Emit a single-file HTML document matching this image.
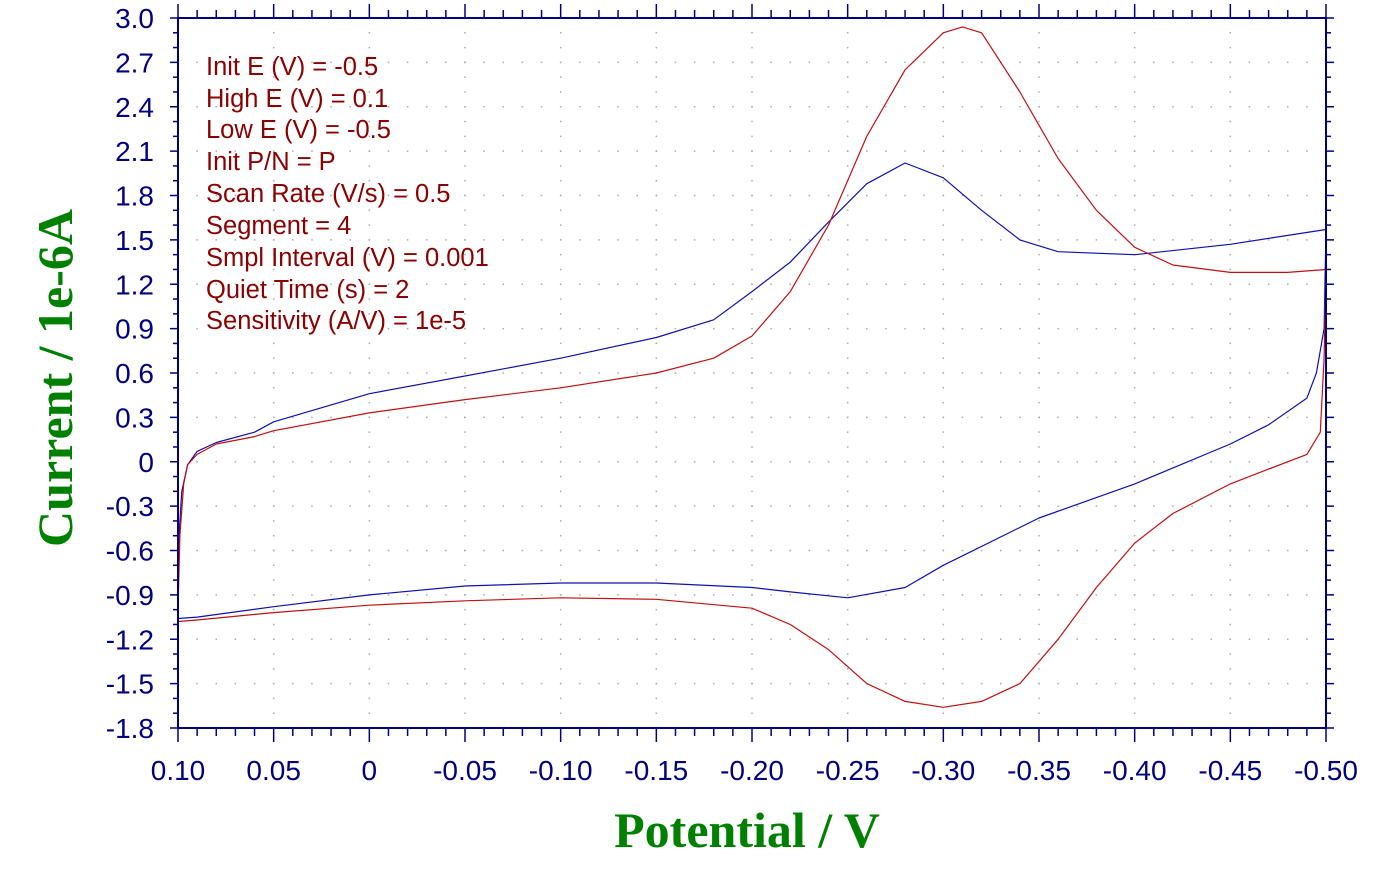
<!DOCTYPE html>
<html><head><meta charset="utf-8"><style>
html,body{margin:0;padding:0;background:#fff;}
svg{display:block;}
</style></head><body>
<svg id="chart" width="1385" height="870" xmlns="http://www.w3.org/2000/svg" font-family="'Liberation Sans', sans-serif">
<g id="grid"></g>
<g id="curves"></g>
<g id="axes"></g>
<g id="params" fill="#8b0000" font-size="25.5">
<text x="206" y="75">Init E (V) = -0.5</text>
<text x="206" y="107">High E (V) = 0.1</text>
<text x="206" y="138">Low E (V) = -0.5</text>
<text x="206" y="170">Init P/N = P</text>
<text x="206" y="202">Scan Rate (V/s) = 0.5</text>
<text x="206" y="234">Segment = 4</text>
<text x="206" y="266">Smpl Interval (V) = 0.001</text>
<text x="206" y="298">Quiet Time (s) = 2</text>
<text x="206" y="329">Sensitivity (A/V) = 1e-5</text>
</g>
<text transform="translate(72,378) rotate(-90)" text-anchor="middle" font-family="'Liberation Serif', serif" font-weight="bold" font-size="50" fill="#008000">Current / 1e-6A</text>
<text x="747" y="847" text-anchor="middle" font-family="'Liberation Serif', serif" font-weight="bold" font-size="50" fill="#008000">Potential / V</text>
</svg>
<script>
const xTicks = [0.10,0.05,0,-0.05,-0.10,-0.15,-0.20,-0.25,-0.30,-0.35,-0.40,-0.45,-0.50];
const xTickLabels = ["0.10","0.05","0","-0.05","-0.10","-0.15","-0.20","-0.25","-0.30","-0.35","-0.40","-0.45","-0.50"];
const yTicks = [3.0,2.7,2.4,2.1,1.8,1.5,1.2,0.9,0.6,0.3,0,-0.3,-0.6,-0.9,-1.2,-1.5,-1.8];
const yTickLabels = ["3.0","2.7","2.4","2.1","1.8","1.5","1.2","0.9","0.6","0.3","0","-0.3","-0.6","-0.9","-1.2","-1.5","-1.8"];

const redE = [0.1,0.099,0.097,0.095,0.09,0.08,0.06,0.05,0.0,-0.05,-0.10,-0.15,-0.18,-0.20,-0.22,-0.24,-0.26,-0.28,-0.30,-0.31,-0.32,-0.34,-0.36,-0.38,-0.40,-0.42,-0.45,-0.48,-0.5,
  -0.499,-0.497,-0.49,-0.47,-0.45,-0.42,-0.40,-0.38,-0.36,-0.34,-0.32,-0.30,-0.28,-0.26,-0.24,-0.22,-0.20,-0.15,-0.10,-0.05,0.0,0.05,0.09,0.1];
const redI = [-1.0,-0.5,-0.15,-0.02,0.05,0.12,0.17,0.21,0.33,0.42,0.50,0.60,0.70,0.85,1.15,1.6,2.2,2.65,2.9,2.94,2.9,2.5,2.05,1.7,1.45,1.33,1.28,1.28,1.30,
  0.7,0.2,0.05,-0.05,-0.15,-0.35,-0.55,-0.85,-1.2,-1.5,-1.62,-1.66,-1.62,-1.5,-1.27,-1.1,-0.99,-0.93,-0.92,-0.94,-0.97,-1.02,-1.07,-1.08];
const blueE = [0.1,0.099,0.098,0.095,0.09,0.08,0.06,0.05,0.0,-0.05,-0.10,-0.15,-0.18,-0.20,-0.22,-0.24,-0.26,-0.28,-0.30,-0.32,-0.34,-0.36,-0.40,-0.45,-0.50,
  -0.499,-0.495,-0.49,-0.47,-0.45,-0.40,-0.35,-0.30,-0.28,-0.25,-0.22,-0.20,-0.15,-0.10,-0.05,0.0,0.05,0.09,0.1];
const blueI = [-0.65,-0.4,-0.2,-0.02,0.07,0.13,0.2,0.27,0.46,0.58,0.70,0.84,0.96,1.15,1.35,1.62,1.88,2.02,1.92,1.7,1.5,1.42,1.40,1.47,1.57,
  0.9,0.6,0.43,0.25,0.12,-0.15,-0.38,-0.7,-0.85,-0.92,-0.88,-0.85,-0.82,-0.82,-0.84,-0.9,-0.98,-1.05,-1.06];

const X0=178,X1=1326,Y0=18,Y1=728;
const sx = e => X0 + (0.1 - e)/0.6*(X1-X0);
const sy = i => Y0 + (3.0 - i)/4.8*(Y1-Y0);
const NS="http://www.w3.org/2000/svg";
function mk(tag, attrs, parent){const el=document.createElementNS(NS,tag);for(const k in attrs)el.setAttribute(k,attrs[k]);parent.appendChild(el);return el;}
const grid=document.getElementById('grid'), axes=document.getElementById('axes'), curves=document.getElementById('curves');
const C="#000080";
const dy=(Y1-Y0)/48, dx=(X1-X0)/60;
xTicks.forEach(e=>{const l=mk('line',{x1:sx(e),x2:sx(e),y1:Y0-0.75,y2:Y1,stroke:'#aaa','stroke-width':1.5,'stroke-dasharray':'1.5 '+(dy-1.5)},grid);

});
yTicks.forEach(v=>{const l=mk('line',{x1:X0-0.75,x2:X1,y1:sy(v),y2:sy(v),stroke:'#aaa','stroke-width':1.5,'stroke-dasharray':'1.5 '+(dx-1.5)},grid);

});
function path(E,I,color,name){let d='';E.forEach((e,k)=>{d+=(k?'L':'M')+sx(e).toFixed(1)+','+sy(I[k]).toFixed(1);});
const p=mk('path',{d:d,fill:'none',stroke:color,'stroke-width':1.2,'stroke-linejoin':'round'},curves);

}
path(blueE,blueI,'#1010b0','blue-cv-curve');
path(redE,redI,'#c01010','red-cv-curve');
const fr=mk('rect',{x:X0,y:Y0,width:X1-X0,height:Y1-Y0,fill:'none',stroke:C,'stroke-width':2},axes);


for(let k=0;k<=60;k++){const x=X0+k*dx;const maj=k%5==0;const len=maj?14:8;
mk('line',{x1:x,x2:x,y1:Y1,y2:Y1+len,stroke:C,'stroke-width':1.5},axes);
mk('line',{x1:x,x2:x,y1:Y0,y2:Y0-len,stroke:C,'stroke-width':1.5},axes);}
for(let k=0;k<=48;k++){const y=Y0+k*dy;const maj=k%3==0;const len=maj?8:5;
mk('line',{x1:X0,x2:X0-len,y1:y,y2:y,stroke:C,'stroke-width':1.5},axes);
mk('line',{x1:X1,x2:X1+len,y1:y,y2:y,stroke:C,'stroke-width':1.5},axes);}
xTicks.forEach((e,k)=>{const t=mk('text',{x:sx(e),y:780,'text-anchor':'middle','font-size':28,fill:C},axes);t.textContent=xTickLabels[k];

});
yTicks.forEach((v,k)=>{const t=mk('text',{x:154,y:sy(v)+10,'text-anchor':'end','font-size':28,fill:C},axes);t.textContent=yTickLabels[k];

});
</script>
</body></html>
